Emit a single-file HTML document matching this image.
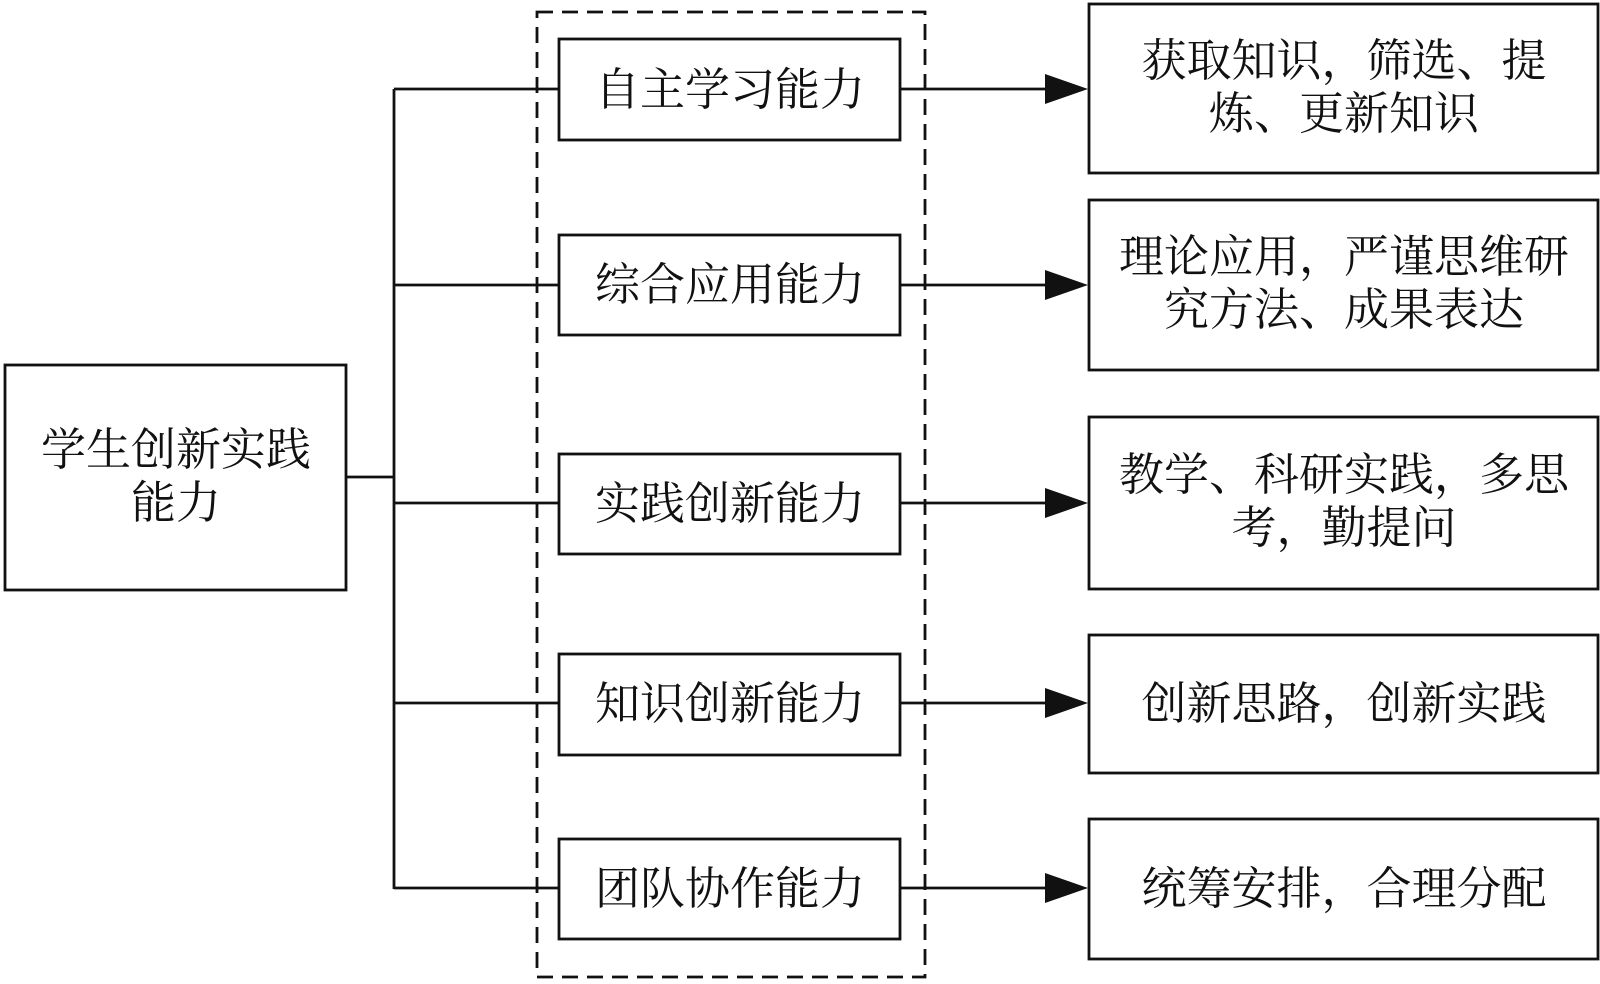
<!DOCTYPE html><html><head><meta charset="utf-8"><style>
body{margin:0;width:1600px;height:979px;background:#fff;overflow:hidden}
.t{font-family:"Liberation Serif","Noto Serif CJK SC",serif;font-size:45px;fill:#111}
</style></head><body>
<svg width="1600" height="979" xmlns="http://www.w3.org/2000/svg">
<g fill="none" stroke="#111" stroke-width="2.8">
<rect x="537" y="12" width="388" height="965" stroke-dasharray="16,9"/>
<rect x="5" y="365" width="341" height="225" fill="#fff"/>
<line x1="346" y1="477" x2="394" y2="477"/>
<line x1="394" y1="89" x2="394" y2="889"/>
</g>
<g stroke="#111" stroke-width="2.8">
<line x1="394" y1="89" x2="559" y2="89"/><line x1="394" y1="285" x2="559" y2="285"/><line x1="394" y1="503" x2="559" y2="503"/><line x1="394" y1="703" x2="559" y2="703"/><line x1="394" y1="888" x2="559" y2="888"/>
<line x1="900" y1="89" x2="1050" y2="89"/><line x1="900" y1="285" x2="1050" y2="285"/><line x1="900" y1="503" x2="1050" y2="503"/><line x1="900" y1="703" x2="1050" y2="703"/><line x1="900" y1="888" x2="1050" y2="888"/>
</g>
<g fill="#111">
<polygon points="1045,74 1088,89 1045,104"/><polygon points="1045,270 1088,285 1045,300"/><polygon points="1045,488 1088,503 1045,518"/><polygon points="1045,688 1088,703 1045,718"/><polygon points="1045,873 1088,888 1045,903"/>
</g>
<g fill="#fff" stroke="#111" stroke-width="2.8">
<rect x="559" y="39" width="341" height="101"/><rect x="559" y="235" width="341" height="100"/><rect x="559" y="454" width="341" height="100"/><rect x="559" y="654" width="341" height="101"/><rect x="559" y="839" width="341" height="100"/>
<rect x="1089" y="4" width="509" height="169"/><rect x="1089" y="200" width="509" height="170"/><rect x="1089" y="417" width="509" height="172"/><rect x="1089" y="635" width="509" height="138"/><rect x="1089" y="819" width="509" height="140"/>
</g>
<g class="t" text-anchor="middle">
<text x="176" y="465">学生创新实践</text><text x="176" y="518">能力</text>
<text x="730" y="105">自主学习能力</text><text x="730" y="300">综合应用能力</text><text x="730" y="519">实践创新能力</text><text x="730" y="719">知识创新能力</text><text x="730" y="904">团队协作能力</text>
<text x="1344" y="76">获取知识，筛选、提</text><text x="1344" y="129">炼、更新知识</text>
<text x="1344" y="272">理论应用，严谨思维研</text><text x="1344" y="325">究方法、成果表达</text>
<text x="1344" y="490">教学、科研实践，多思</text><text x="1344" y="543">考，勤提问</text>
<text x="1344" y="719">创新思路，创新实践</text>
<text x="1344" y="904">统筹安排，合理分配</text>
</g>
</svg>
</body></html>
